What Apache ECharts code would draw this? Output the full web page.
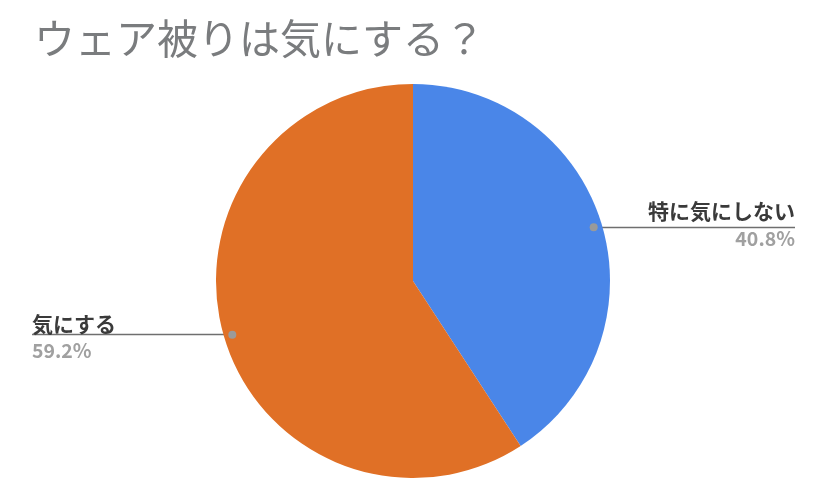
<!DOCTYPE html>
<html>
<head>
<meta charset="utf-8">
<title>ウェア被りは気にする？</title>
<script src="https://cdn.jsdelivr.net/npm/echarts@6/dist/echarts.min.js"></script>
<style>
html,body{margin:0;padding:0;background:#fff;}
#pieChart{width:827px;height:493px;}
</style>
</head>
<body>
<div id="pieChart"></div>
<script>

// データ
const categories = ["特に気にしない", "気にする"];
const values = [40.8, 59.2];
const sliceColors = ["#4a86e8", "#e07026"];

const pieData = categories.map((name, i) => ({
  name: name,
  value: values[i],
  itemStyle: { color: sliceColors[i] }
}));


// 円グラフ
const dom = document.getElementById("pieChart");
const chart = echarts.init(dom);

const CENTER = [413, 281];
const RADIUS = 197;
const DOT_R = 188;

chart.setOption({
  animation: false,

  title: {
    text: "ウェア被りは気にする？",
    left: 29,
    top: 13,
    textStyle: {
      fontFamily: "Noto Sans CJK JP",
      fontSize: 41,
      fontWeight: "normal",
      color: "#7a7c7e"
    }
  },

  series: [
    {
      name: "ウェア被り",
      type: "pie",
      center: CENTER,
      radius: RADIUS,
      startAngle: 90,
      clockwise: true,
      silent: true,
      emphasis: { disabled: true },
      data: pieData,
      label: {
        alignTo: "edge",
        edgeDistance: 32,
        formatter: "{name|{b}}\n{pct|{c}%}",
        rich: {
          name: {
            fontFamily: "Noto Sans CJK JP",
            fontSize: 21,
            fontWeight: "bold",
            color: "#3a3a3a",
            lineHeight: 27
          },
          pct: {
            fontFamily: "Noto Sans CJK JP",
            fontSize: 19.5,
            fontWeight: "bold",
            color: "#a0a0a0",
            lineHeight: 27
          }
        }
      },
      labelLine: {
        show: true,
        length: 0,
        length2: 10,
        lineStyle: { color: "#6f6f6f", width: 1.5 }
      },
      labelLayout: function (params) {
        const isLeft = params.labelRect.x < chart.getWidth() / 2;
        const points = params.labelLinePoints;
        // 線を円の少し内側から、ラベルの反対端まで伸ばす
        const dx = points[0][0] - CENTER[0];
        const dy = points[0][1] - CENTER[1];
        const k = DOT_R / Math.sqrt(dx * dx + dy * dy);
        points[0] = [CENTER[0] + dx * k, CENTER[1] + dy * k];
        points[1] = [points[0][0], points[0][1]];
        points[2] = [
          isLeft ? params.labelRect.x : params.labelRect.x + params.labelRect.width,
          points[0][1]
        ];
        return { labelLinePoints: points };
      }
    },

    // 線の根元の点
    {
      name: "dots",
      type: "pie",
      center: CENTER,
      radius: [0, DOT_R * 2 - 5],
      startAngle: 90,
      clockwise: true,
      silent: true,
      z: 3,
      emphasis: { disabled: true },
      itemStyle: { color: "transparent", borderWidth: 0 },
      data: pieData.map(d => ({ name: d.name, value: d.value, itemStyle: { color: "transparent" } })),
      label: {
        position: "inside",
        formatter: "{d|}",
        rich: {
          d: {
            width: 8,
            height: 8,
            borderRadius: 4,
            backgroundColor: "#9a9a9a"
          }
        }
      },
      labelLine: { show: false }
    }
  ]
});


window.addEventListener("resize", () => chart.resize());

</script>
</body>
</html>
